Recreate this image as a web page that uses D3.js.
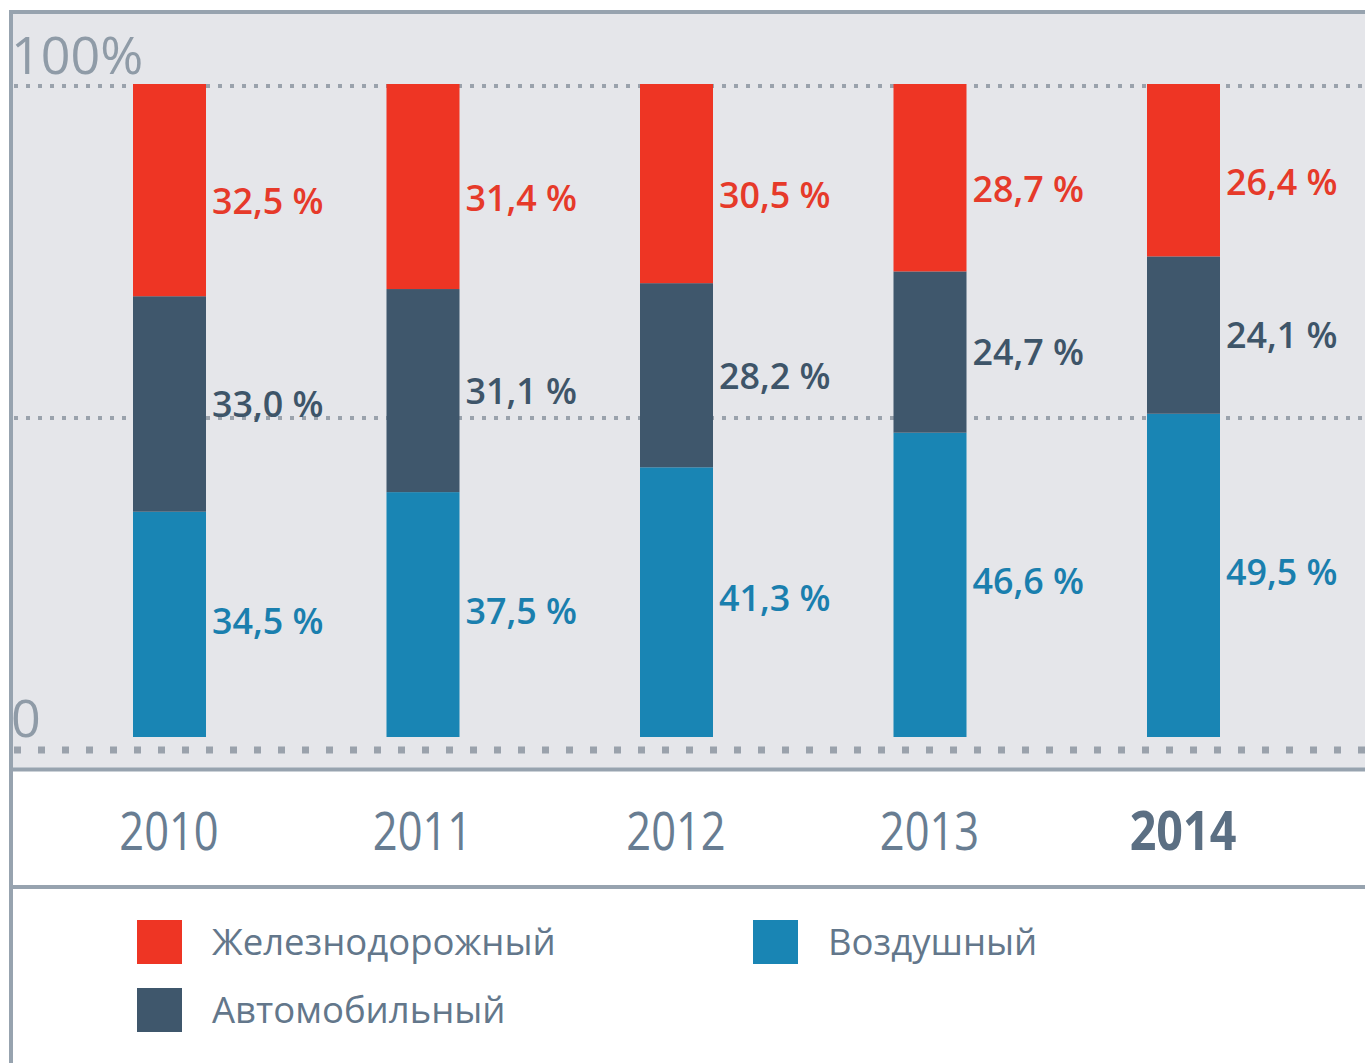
<!DOCTYPE html>
<html>
<head>
<meta charset="utf-8">
<script src="https://cdn.jsdelivr.net/npm/d3@7"></script>
<style>
  body { margin: 0; background: #fff; }
  text { font-family: "Open Sans", "Noto Sans", sans-serif; }
</style>
</head>
<body>
<div id="chart"></div>
<script>
var canvasWidth = 1365;
var canvasHeight = 1063;

/*Data*/
var years = ["2010", "2011", "2012", "2013", "2014"];
var rail = [32.5, 31.4, 30.5, 28.7, 26.4];
var auto = [33.0, 31.1, 28.2, 24.7, 24.1];
var air = [34.5, 37.5, 41.3, 46.6, 49.5];
var keys = ["air", "auto", "rail"];
var names = {rail: "Железнодорожный", auto: "Автомобильный", air: "Воздушный"};
var gridValues = [0, 50, 100];

var color = d3.scaleOrdinal().domain(keys).range(["#1985b4", "#3f576c", "#ee3524"]);
var textColor = d3.scaleOrdinal().domain(keys).range(["#1a7fae", "#3e5569", "#e63a2a"]);
/*small vertical nudge of value labels per series*/
var labelShift = d3.scaleOrdinal().domain(keys).range([-4, 0, 11]);

var data = years.map(function (y, i) {
    return {year: y, rail: rail[i], auto: auto[i], air: air[i]};
});

var svg = d3.select("#chart").append("svg")
    .attr("width", canvasWidth)
    .attr("height", canvasHeight);

/*Scales*/
var xScale = d3.scalePoint().domain(years).range([169.5, 1183.5]);
var yScale = d3.scaleLinear().domain([0, 100]).range([737, 84]);
var gridScale = d3.scaleLinear().domain([0, 100]).range([750, 86]);
var barW = 73;

/*Panel background and frame*/
svg.append("rect")
    .attr("x", 10).attr("y", 12)
    .attr("width", canvasWidth - 10).attr("height", 758)
    .attr("fill", "#e5e6ea");

var frame = "#97a3af";
svg.append("line").attr("x1", 9).attr("x2", canvasWidth).attr("y1", 12).attr("y2", 12)
    .attr("stroke", frame).attr("stroke-width", 4);
svg.append("line").attr("x1", 11).attr("x2", 11).attr("y1", 10).attr("y2", canvasHeight)
    .attr("stroke", frame).attr("stroke-width", 4);
svg.append("line").attr("x1", 9).attr("x2", canvasWidth).attr("y1", 769.5).attr("y2", 769.5)
    .attr("stroke", frame).attr("stroke-width", 4);
svg.append("line").attr("x1", 9).attr("x2", canvasWidth).attr("y1", 887).attr("y2", 887)
    .attr("stroke", frame).attr("stroke-width", 4);

/*Dotted gridlines*/
svg.append("g").selectAll("line")
    .data(gridValues)
    .join("line")
    .attr("x1", 14).attr("x2", canvasWidth)
    .attr("y1", function (d) { return gridScale(d); })
    .attr("y2", function (d) { return gridScale(d); })
    .attr("stroke", "#9aa2ac")
    .attr("stroke-width", function (d) { return d === 0 ? 7 : 4; })
    .attr("stroke-dasharray", function (d) { return d === 0 ? "7,17" : "4,8"; });

/*Axis end labels*/
svg.append("text").attr("x", 11).attr("y", gridScale(100) - 12)
    .attr("font-size", 52).attr("fill", "#8f9ba7").text("100%");
svg.append("text").attr("x", 11).attr("y", yScale(0))
    .attr("font-size", 52).attr("fill", "#8f9ba7").text("0");

/*Stacked bars*/
var stacked = d3.stack().keys(keys)(data);

var layers = svg.append("g").selectAll("g")
    .data(stacked)
    .join("g")
    .attr("fill", function (d) { return color(d.key); });

layers.selectAll("rect")
    .data(function (d) { return d; })
    .join("rect")
    .attr("x", function (d) { return xScale(d.data.year) - barW / 2; })
    .attr("y", function (d) { return yScale(d[1]); })
    .attr("width", barW)
    .attr("height", function (d) { return yScale(d[0]) - yScale(d[1]); });

/*Value labels*/
var fmt = function (v) { return d3.format(".1f")(v).replace(".", ",") + " %"; };

svg.append("g").selectAll("g")
    .data(stacked)
    .join("g")
    .attr("fill", function (d) { return textColor(d.key); })
    .each(function (layer) {
        d3.select(this).selectAll("text")
            .data(layer)
            .join("text")
            .attr("transform", function (d) {
                var cx = xScale(d.data.year) + barW / 2 + 6;
                var cy = (yScale(d[0]) + yScale(d[1])) / 2 + labelShift(layer.key);
                return "translate(" + cx + "," + cy + ") scale(0.97,1)";
            })
            .attr("dy", "0.36em")
            .attr("font-size", 37)
            .attr("font-weight", 600)
            .text(function (d) { return fmt(d.data[layer.key]); });
    });

/*Year labels*/
svg.append("g").selectAll("text")
    .data(years)
    .join("text")
    .attr("transform", function (d, i) {
        var s = i === years.length - 1 ? 0.88 : 0.82;
        return "translate(" + (xScale(d) - 0.5) + ",831) scale(" + s + ",1)";
    })
    .attr("text-anchor", "middle")
    .attr("dy", "0.36em")
    .attr("font-size", 53)
    .attr("font-weight", function (d, i) { return i === years.length - 1 ? 700 : 400; })
    .attr("fill", function (d, i) { return i === years.length - 1 ? "#5b6f83" : "#687d92"; })
    .text(function (d) { return d; });

/*Legend*/
var legendItems = [
    {key: "rail", col: 0, row: 0},
    {key: "air", col: 1, row: 0},
    {key: "auto", col: 0, row: 1}
];
var legend = svg.append("g").attr("transform", "translate(137,920)");
var item = legend.selectAll("g")
    .data(legendItems)
    .join("g")
    .attr("transform", function (d) { return "translate(" + d.col * 616 + "," + d.row * 68 + ")"; });
item.append("rect")
    .attr("width", 45).attr("height", 44)
    .attr("fill", function (d) { return color(d.key); });
item.append("text")
    .attr("x", 75).attr("y", 22)
    .attr("dy", "0.36em")
    .attr("font-size", 36.5)
    .attr("fill", "#63778b")
    .text(function (d) { return names[d.key]; });
</script>
</body>
</html>
